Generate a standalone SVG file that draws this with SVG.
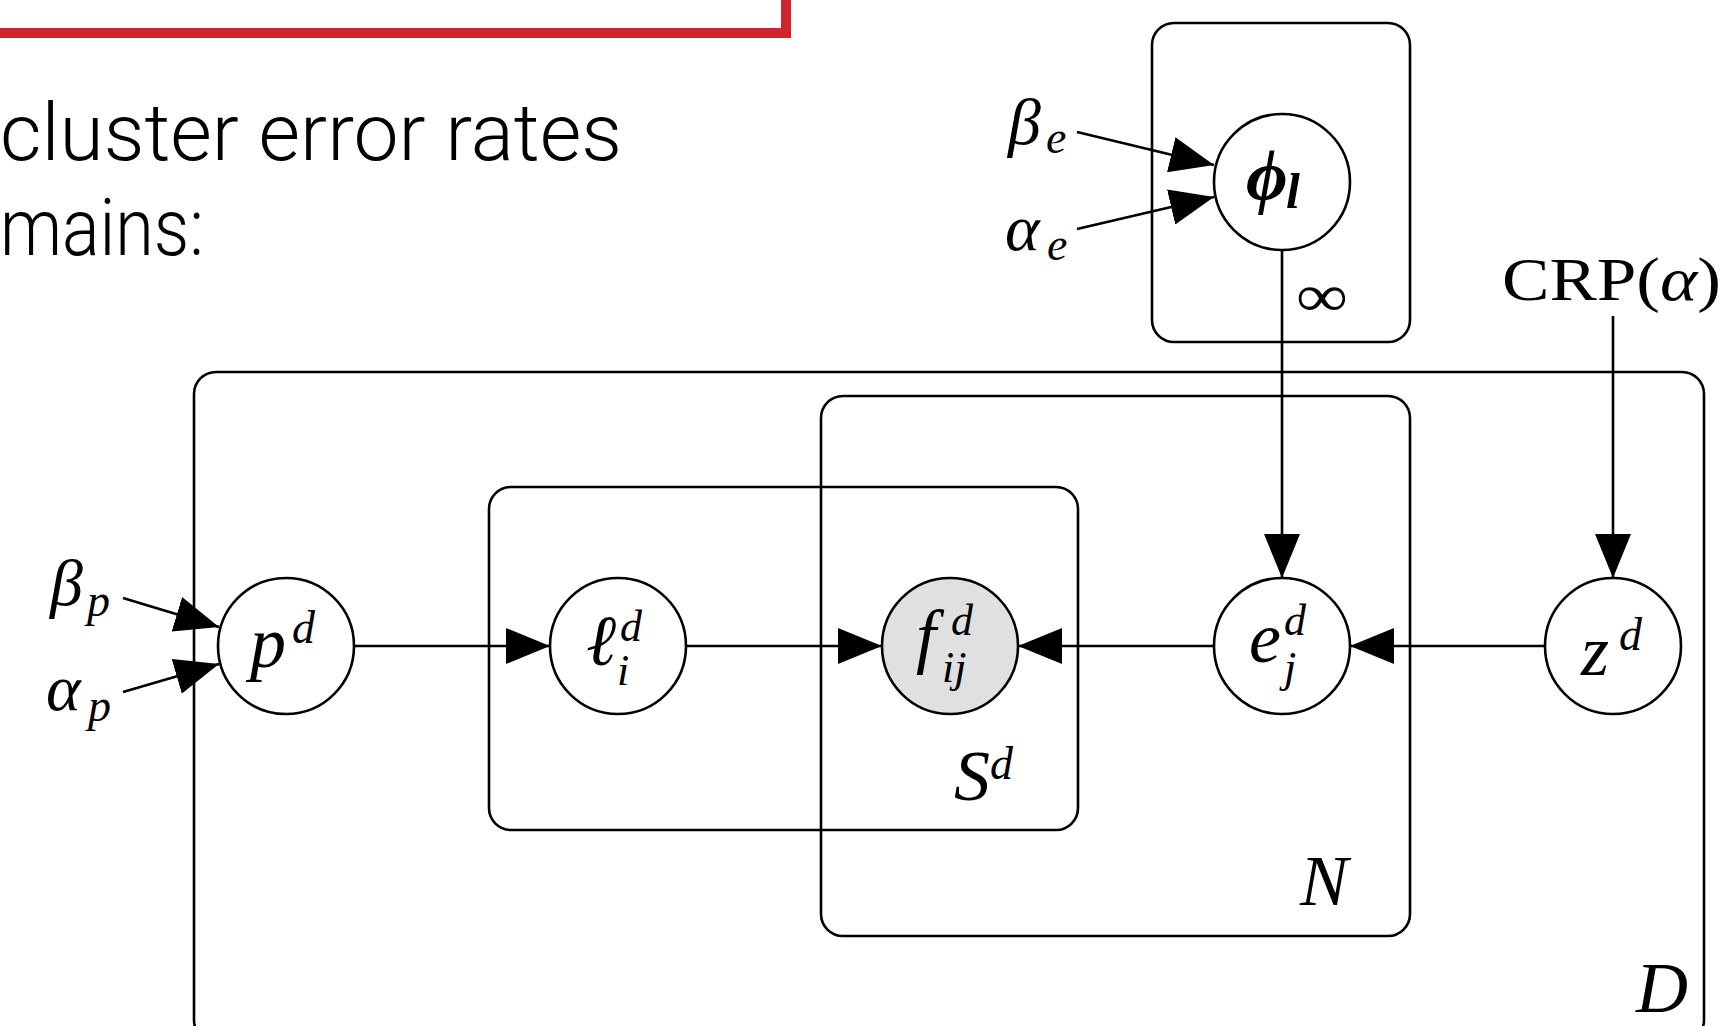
<svg xmlns="http://www.w3.org/2000/svg" width="1725" height="1026" viewBox="0 0 1725 1026">
<defs>
<style>
.plate{fill:none;stroke:#000;stroke-width:2.6}
.node{fill:#fff;stroke:#000;stroke-width:2.6}
.obs{fill:#e0e0e0;stroke:#000;stroke-width:2.6}
.edge{fill:none;stroke:#000;stroke-width:2.6;marker-end:url(#ah)}
.m{font-family:"Liberation Serif","DejaVu Serif",serif;font-style:italic;fill:#000;font-size:72px}
.r{font-family:"Liberation Serif","DejaVu Serif",serif;fill:#000}
.sm{font-size:46px}
.ss{font-size:44px}
.lbl{font-size:66px}
.body{font-family:Roboto,"Liberation Sans",sans-serif;font-weight:300;font-size:80px;fill:#000}
</style>
<marker id="ah" markerUnits="userSpaceOnUse" markerWidth="44" markerHeight="36" refX="44" refY="18" orient="auto">
<path d="M0,0 L44,18 L0,36 Z" fill="#000"/>
</marker>
</defs>
<rect width="1725" height="1026" fill="#fff"/>
<rect x="-30" y="-120" width="816" height="153" fill="none" stroke="#d1232e" stroke-width="10"/>
<text class="body" x="0" y="160" textLength="622" lengthAdjust="spacingAndGlyphs">cluster error rates</text>
<text class="body" x="0" y="255" textLength="204" lengthAdjust="spacingAndGlyphs">mains:</text>

<g id="plates">
<rect id="plate-inf" class="plate" x="1152" y="23" width="258" height="319" rx="22"/>
<rect id="plate-D" class="plate" x="194" y="372" width="1510" height="670" rx="22"/>
<rect id="plate-N" class="plate" x="821" y="396" width="589" height="540" rx="22"/>
<rect id="plate-S" class="plate" x="489" y="487" width="589" height="343" rx="22"/>
<text class="r" x="1296" y="316" font-size="60" textLength="52" lengthAdjust="spacingAndGlyphs">∞</text>
<text class="m" x="954" y="800" font-size="58">S<tspan class="sm" x="990" y="779">d</tspan></text>
<text class="m" x="1300" y="905" font-size="58">N</text>
<text class="m" x="1636" y="1012" font-size="58">D</text>
</g>

<g id="connectors">
<line class="edge" x1="355" y1="646" x2="550" y2="646"/>
<line class="edge" x1="687" y1="646" x2="882" y2="646"/>
<line class="edge" x1="1213" y1="646" x2="1018" y2="646"/>
<line class="edge" x1="1545" y1="646" x2="1350" y2="646"/>
<line class="edge" x1="1282" y1="250" x2="1282" y2="578"/>
<line class="edge" x1="1613" y1="316" x2="1613" y2="578"/>
<line class="edge" x1="123" y1="598" x2="219" y2="627"/>
<line class="edge" x1="123" y1="692" x2="219" y2="664"/>
<line class="edge" x1="1077" y1="132" x2="1214" y2="165"/>
<line class="edge" x1="1077" y1="229" x2="1214" y2="197"/>
</g>

<g id="node-phi">
<circle class="node" cx="1282" cy="182" r="68"/>
<text class="m" x="1246" y="200" font-size="68" font-weight="bold">ϕ<tspan x="1286" y="208" font-size="50">l</tspan></text>
</g>
<g id="node-p">
<circle class="node" cx="286" cy="646" r="68"/>
<text class="m" x="250" y="667">p<tspan class="sm" x="292" y="643">d</tspan></text>
</g>
<g id="node-l">
<circle class="node" cx="618" cy="646" r="68"/>
<text class="m" x="586" y="665">ℓ<tspan class="ss" x="620" y="641">d</tspan><tspan class="ss" x="617" y="685">i</tspan></text>
</g>
<g id="node-f">
<circle class="obs" cx="950" cy="646" r="68"/>
<text class="m" x="916" y="660">f<tspan class="ss" x="951" y="635">d</tspan><tspan class="ss" x="942" y="682">ij</tspan></text>
</g>
<g id="node-e">
<circle class="node" cx="1282" cy="646" r="68"/>
<text class="m" x="1249" y="662">e<tspan class="ss" x="1284" y="635">d</tspan><tspan class="ss" x="1284" y="682">j</tspan></text>
</g>
<g id="node-z">
<circle class="node" cx="1613" cy="646" r="68"/>
<text class="m" x="1581" y="675">z<tspan class="sm" x="1619" y="650">d</tspan></text>
</g>

<g id="node-beta-p">
<text class="m lbl" x="50" y="605">β<tspan class="sm" x="87" y="616">p</tspan></text>
</g>
<g id="node-alpha-p">
<text class="m lbl" x="46" y="710">α<tspan class="sm" x="88" y="721">p</tspan></text>
</g>
<g id="node-beta-e">
<text class="m lbl" x="1008" y="144">β<tspan class="sm" x="1046" y="153">e</tspan></text>
</g>
<g id="node-alpha-e">
<text class="m lbl" x="1005" y="250">α<tspan class="sm" x="1047" y="260">e</tspan></text>
</g>
<g id="node-crp">
<text class="r" x="1502" y="300" font-size="62" textLength="219" lengthAdjust="spacingAndGlyphs">CRP(<tspan font-style="italic">α</tspan>)</text>
</g>
</svg>
